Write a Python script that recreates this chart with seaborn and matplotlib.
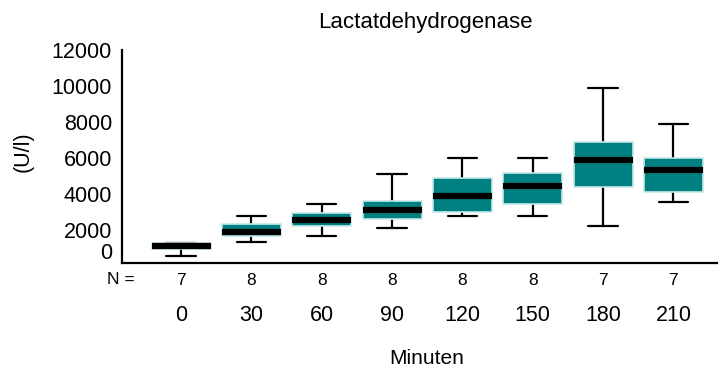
import matplotlib
matplotlib.use("Agg")
import matplotlib.pyplot as plt
import seaborn as sns
import pandas as pd

# Sampling times (minutes) and group sizes
minutes = ["0", "30", "60", "90", "120", "150", "180", "210"]
n_per_group = [7, 8, 8, 8, 8, 8, 7, 7]

# Five-number summaries of LDH activity (U/l) per time point
minimum = [550, 1330, 1670, 2110, 2780, 2780, 2220, 3560]
lower_quartile = [950, 1670, 2220, 2590, 3020, 3460, 4370, 4090]
median = [1130, 1910, 2560, 3110, 3890, 4460, 5890, 5330]
upper_quartile = [1300, 2330, 2960, 3630, 4870, 5190, 6870, 5980]
maximum = [1300, 2780, 3440, 5110, 6020, 6020, 9890, 7890]

y_ticks = [2000, 4000, 6000, 8000, 10000, 12000]

# Long-form table: the five summary values per group reproduce the
# quartiles exactly under linear percentile interpolation.
rows = []
for i, t in enumerate(minutes):
    for v in (minimum[i], lower_quartile[i], median[i], upper_quartile[i], maximum[i]):
        rows.append({"Minuten": t, "LDH": v})
df = pd.DataFrame(rows)

sns.set_style("white")
plt.rcParams["font.family"] = ["Liberation Sans", "DejaVu Sans"]
plt.rcParams["text.color"] = "black"
plt.rcParams["axes.labelcolor"] = "black"
plt.rcParams["xtick.color"] = "black"
plt.rcParams["ytick.color"] = "black"

fig = plt.figure(figsize=(7.19, 3.72), dpi=100)
W, H = 719, 372
left, right, top, bottom = 121.7, 717, 50, 263
ax = fig.add_axes([left / W, 1 - bottom / H, (right - left) / W, (bottom - top) / H])

sns.boxplot(
    data=df, x="Minuten", y="LDH", order=minutes, ax=ax,
    whis=(0, 100), width=0.84, color="#008080", saturation=1,
    linewidth=1.5, showfliers=False,
    boxprops=dict(facecolor="#008080", edgecolor="#c4e8e8", linewidth=1.2, zorder=3),
    whiskerprops=dict(color="black", linewidth=1.6, zorder=2),
    capprops=dict(color="black", linewidth=1.6, zorder=2),
    medianprops=dict(color="black", linewidth=4.5, zorder=4),
)

ax.set_xlim(-0.844, 7.62)
ax.set_ylim(167, 12000)
ax.set_yticks(y_ticks)
ax.set_yticklabels([str(v) for v in y_ticks])
ax.tick_params(axis="y", length=0, pad=7, labelsize=15.5)
ax.tick_params(axis="x", length=3, width=3, direction="out", color="black",
               pad=27, labelsize=15.5)

# Zero label sits a little above the baseline
ax.text(-9.5 / (right - left), 667, "0", transform=ax.get_yaxis_transform(),
        ha="right", va="center", fontsize=15.5)

for side in ("top", "right"):
    ax.spines[side].set_visible(False)
for side in ("left", "bottom"):
    ax.spines[side].set_color("black")
    ax.spines[side].set_linewidth(1.6)

# Group sizes under the axis
ax.text((135 - left) / (right - left), -17 / (bottom - top),
        "N =", transform=ax.transAxes, ha="right", va="center", fontsize=12.5)
for i, n in enumerate(n_per_group):
    ax.text(i, -17.5 / (bottom - top), str(n), transform=ax.get_xaxis_transform(),
            ha="center", va="center", fontsize=12.5)

title = ax.set_title("Lactatdehydrogenase", fontsize=16, pad=16)
title.set_x((425 - left) / (right - left))
ax.set_xlabel("Minuten", fontsize=15)
ax.set_ylabel("(U/l)", fontsize=15.5)
ax.xaxis.set_label_coords((427 - left) / (right - left), (bottom - 358) / (bottom - top))
ax.xaxis.label.set_va("center")
ax.yaxis.set_label_coords((23 - left) / (right - left), (bottom - 152) / (bottom - top))
ax.yaxis.label.set_va("center")

fig.savefig("out.png", dpi=100)
